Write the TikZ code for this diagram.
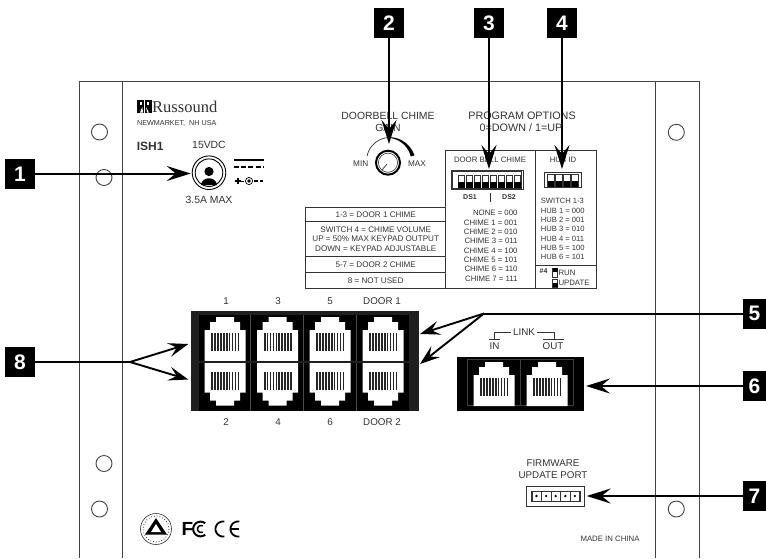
\documentclass[tikz,border=0pt]{standalone}
\usepackage{fontspec}
\setmainfont{Liberation Sans}
\usetikzlibrary{arrows.meta}
\definecolor{ink}{HTML}{333333}
\definecolor{panel}{HTML}{444444}
\tikzset{
  x=1pt,y=-1pt,
  panelline/.style={draw=panel,line width=1pt},
  hole/.style={draw=panel,line width=0.9pt},
  box/.style={draw=ink,line width=0.9pt},
  tag/.style={fill=black,text=white,inner sep=0pt,minimum width=30pt,minimum height=30pt,font=\bfseries\fontsize{21}{21}\selectfont},
  tagcut/.style={tag,minimum width=23pt},
  lead/.style={draw=black,line width=2pt,-{Stealth[length=24pt,width=15pt,inset=9pt]}},
  leadthick/.style={draw=black,line width=2.5pt,-{Stealth[length=24pt,width=15pt,inset=9pt]}},
  leadhalf/.style={draw=black,line width=1.9pt,-{Stealth[length=20pt,width=14pt,inset=8pt]}},
  plainlead/.style={draw=black,line width=2pt},
  big/.style={text=ink,inner sep=0pt,font=\fontsize{10.4}{11}\selectfont},
  prog/.style={text=ink,inner sep=0pt,font=\fontsize{10.8}{11}\selectfont},
  jacktxt/.style={text=ink,inner sep=0pt,font=\fontsize{9.8}{10}\selectfont},
  tabletxt/.style={text=ink,inner sep=0pt,font=\fontsize{8.1}{9}\selectfont},
  chimetxt/.style={text=ink,inner sep=0pt,font=\fontsize{7.8}{9}\selectfont},
  hubtxt/.style={text=ink,inner sep=0pt,font=\fontsize{7.6}{8}\selectfont},
  boldtxt/.style={text=ink,inner sep=0pt,font=\bfseries\fontsize{7}{8}\selectfont},
}
\newcommand{\rjack}[3]{%
  \fill[white] ({#1-9},#2) -- ({#1+9},#2) -- ({#1+9},{#2+#3*5}) -- ({#1+15},{#2+#3*5}) -- ({#1+15},{#2+#3*13}) -- ({#1+20.5},{#2+#3*13}) -- ({#1+20.5},{#2+#3*44}) -- ({#1-20.5},{#2+#3*44}) -- ({#1-20.5},{#2+#3*13}) -- ({#1-15},{#2+#3*13}) -- ({#1-15},{#2+#3*5}) -- ({#1-9},{#2+#3*5}) -- cycle;
  \foreach \k in {0,...,9} {
    \fill[black!85] ({#1-13.6+\k*2.9},{#2+#3*16}) rectangle ({#1-12+\k*2.9},{#2+#3*34});
  }%
}
\newcommand{\dipsw}[3]{% x, y top, count
  \foreach \k in {1,...,#3} {
    \pgfmathsetmacro{\xa}{#1+(\k-1)*8}
    \draw[ink,line width=0.7pt,fill=white] (\xa,#2) rectangle ({\xa+6.6},{#2+12});
    \fill[black] (\xa,{#2+6.5}) rectangle ({\xa+6.6},{#2+12});
  }%
}
\begin{document}
\begin{tikzpicture}
\useasboundingbox (0,0) rectangle (766,558);
\fill[white] (0,0) rectangle (766,558);

% panel
\draw[panelline] (79,558) -- (79,81) -- (699,81) -- (699,558);
\draw[panelline] (122,81) -- (122,558);
\draw[panelline] (655.5,81) -- (655.5,558);
\foreach \x/\y in {99.5/132,104/177.5,104/463.5,99.5/509,676.3/132.3,676.3/509} {
  \draw[hole,fill=white] (\x,\y) circle[radius=8];
}

% logo
\fill[black] (137,100) rectangle (151.5,112.5);
\fill[white] (143.7,100) rectangle (144.6,112.5);
\fill[white] (139.5,102) rectangle (141.5,104.5);
\fill[white] (147,102) rectangle (149,104.5);
\fill[white] (140,112.5) -- (142.2,107) -- (143.2,112.5) -- cycle;
\fill[white] (146,107) -- (147,112.5) -- (149,112.5) -- cycle;
\node[anchor=base west,inner sep=0pt,text=ink,font={\fontspec{Liberation Serif}\fontsize{16.5}{17}\selectfont}] (brand) at (152,112.3) {Russound};
\node[anchor=west,text=ink,inner sep=0pt,font=\fontsize{7.2}{8}\selectfont] (addr) at (137,123.5) {NEWMARKET,\ \ NH USA};
\node[anchor=west,inner sep=0pt,text=ink,font=\bfseries\fontsize{12}{12}\selectfont] (model) at (136.7,146) {ISH1};

% power
\node[big] (vdc) at (209,145) {15VDC};
\node[big] (amax) at (209,200) {3.5A MAX};
\draw[black,line width=0.9pt] (209,172.7) circle[radius=16.8];
\draw[black,line width=0.9pt] (209,172.7) circle[radius=13.8];
\fill[black] (209,171.5) circle[radius=4.6];
\fill[black] (201,185) .. controls (202,176) and (216,176) .. (217,185) -- cycle;
\draw[black,line width=1.4pt] (234,160) -- (264,160);
\draw[black,line width=1.2pt,dash pattern=on 5pt off 2.2pt] (234,167) -- (264,167);
\draw[black,line width=1.2pt] (235,181) -- (241,181);
\draw[black,line width=1.2pt] (238,178) -- (238,184);
\draw[black,line width=1pt] (241,181) -- (244,181);
\draw[black,line width=0.7pt] (249,181) circle[radius=3.6];
\fill[black] (249,181) circle[radius=1.8];
\draw[black,line width=1.2pt] (254,181) -- (258,181) (260,181) -- (263,181);

% gain
\node[big] (bell) at (388,116) {DOORBELL CHIME};
\node[big] (gaintxt) at (388,128) {GAIN};
\node[text=ink,inner sep=0pt,font=\fontsize{8.2}{9}\selectfont] (mintxt) at (360.7,164) {MIN};
\node[text=ink,inner sep=0pt,font=\fontsize{8.2}{9}\selectfont] (maxtxt) at (417,164) {MAX};
\draw[ink,line width=0.7pt] plot[domain=162:90,samples=30] ({388+(22+(162-\x)/72*3.5)*cos(\x)},{163-(22+(162-\x)/72*3.5)*sin(\x)});
\fill[black] plot[domain=90:16,samples=30] ({388+(25.8+1.7*(90-\x)/74)*cos(\x)},{163-(25.8+1.7*(90-\x)/74)*sin(\x)})
  -- plot[domain=16:90,samples=30] ({388+(25.2-1.6*(90-\x)/74)*cos(\x)},{163-(25.2-1.6*(90-\x)/74)*sin(\x)}) -- cycle;
\draw[black,line width=2pt] (388,162.7) circle[radius=12];
\draw[ink,line width=0.6pt] (388,162.7) circle[radius=9.6];
\draw[ink,line width=0.7pt] (382,170) -- (387,164);

% options
\node[prog] (progt) at (522,116) {PROGRAM OPTIONS};
\node[prog] (updown) at (521,128) {0=DOWN / 1=UP};

\draw[box] (445.7,150.7) rectangle (596,288);
\draw[box] (535.5,150.7) -- (535.5,288);
\draw[box] (535.5,265.7) -- (596,265.7);
\draw[box] (305.7,207.3) rectangle (445.7,288);
\draw[box] (305.7,221.7) -- (445.7,221.7);
\draw[box] (305.7,256.7) -- (445.7,256.7);
\draw[box] (305.7,272.3) -- (445.7,272.3);

\node[tabletxt] (r1) at (375.7,214.5) {1-3 = DOOR 1 CHIME};
\node[tabletxt] (r2a) at (375.7,229.7) {SWITCH 4 = CHIME VOLUME};
\node[tabletxt] (r2b) at (375.7,239) {UP = 50\% MAX KEYPAD OUTPUT};
\node[tabletxt] (r2c) at (375.7,248.5) {DOWN = KEYPAD ADJUSTABLE};
\node[tabletxt] (r3) at (375.7,265) {5-7 = DOOR 2 CHIME};
\node[tabletxt] (r4) at (375.7,281) {8 = NOT USED};

\node[chimetxt] (dbc) at (490,160) {DOOR BELL CHIME};
\draw[ink,line width=0.9pt] (451,170) rectangle (523,189.3);
\draw[ink,line width=0.5pt] (452.5,171.5) rectangle (521.5,187.8);
\dipsw{458}{175.5}{8}
\node[boldtxt] (ds1) at (470,197) {DS1};
\node[boldtxt] (ds2) at (509,197) {DS2};
\draw[ink,line width=0.8pt] (490,193) -- (490,201.5);
\foreach \i/\y/\t in {0/213.3/NONE = 000,1/222.7/CHIME 1 = 001,2/232/CHIME 2 = 010,3/241.3/CHIME 3 = 011,4/250.7/CHIME 4 = 100,5/260/CHIME 5 = 101,6/269.3/CHIME 6 = 110,7/278.7/CHIME 7 = 111} {
  \node[chimetxt,anchor=east] (ch\i) at (517.7,\y) {\t};
}

\node[chimetxt] (hubid) at (563,160) {HUB ID};
\draw[ink,line width=0.9pt] (544,172.3) rectangle (581.7,187.7);
\dipsw{547.5}{174.5}{4}
\foreach \i/\y/\t in {0/201/SWITCH 1-3,1/211/HUB 1 = 000,2/220/HUB 2 = 001,3/229/HUB 3 = 010,4/239/HUB 4 = 011,5/248/HUB 5 = 100,6/257/HUB 6 = 101} {
  \node[hubtxt,anchor=west] (hub\i) at (540.7,\y) {\t};
}
\node[boldtxt,anchor=west] (four) at (539.5,271) {\#4};
\draw[ink,line width=0.6pt,fill=white] (552.5,268) rectangle (557.5,277);
\fill[black] (552.5,268) rectangle (557.5,272);
\draw[ink,line width=0.6pt,fill=white] (552.5,279.5) rectangle (557.5,287);
\fill[black] (552.5,283) rectangle (557.5,287);
\node[chimetxt,anchor=west] (run) at (558.3,272.5) {RUN};
\node[chimetxt,anchor=west] (upd) at (558.3,283) {UPDATE};

% RJ block 1
\fill[black!88] (190.7,311) rectangle (419.3,411);
\fill[black] (198.5,314.5) rectangle (409,411);
\draw[black!70,line width=0.5pt] (250.7,314.5) -- (250.7,411) (303.5,314.5) -- (303.5,411) (356.7,314.5) -- (356.7,411);
\foreach \x in {225,277.5,330,383} {
  \rjack{\x}{317}{1}
  \rjack{\x}{405.7}{-1}
}
\draw[black!88,line width=2.4pt] (190.7,362) -- (419.3,362);
\foreach \i/\x/\t in {a/226/1,b/278/3,c/330/5,d/382/DOOR 1} {
  \node[jacktxt] (top\i) at (\x,300.7) {\t};
}
\foreach \i/\x/\t in {a/226/2,b/278/4,c/330/6,d/382/DOOR 2} {
  \node[jacktxt] (bot\i) at (\x,422.5) {\t};
}

% LINK
\fill[black] (457,357) rectangle (584,411);
\draw[black!75,line width=0.5pt] (467,359.5) rectangle (573.5,405) (520.5,359.5) -- (520.5,405);
\rjack{494}{362}{1}
\rjack{547}{362}{1}
\node[jacktxt] (linktxt) at (524,332) {LINK};
\node[jacktxt] (intxt) at (494.5,346) {IN};
\node[jacktxt] (outtxt) at (553,346) {OUT};
\draw[ink,line width=0.7pt] (489,339.4) -- (499.5,339.4) (494.3,339.4) -- (494.3,332) -- (510.7,332);
\draw[ink,line width=0.7pt] (537,332) -- (554,332) -- (554,339.4) (542.7,339.4) -- (564,339.4);

% firmware
\node[jacktxt] (fw) at (553,463.3) {FIRMWARE};
\node[jacktxt] (upt) at (553,475) {UPDATE PORT};
\draw[ink,line width=0.9pt] (526.7,486) rectangle (584.3,506);
\draw[ink,line width=0.8pt] (531.7,491) rectangle (579.7,501);
\foreach \k in {0,...,4} {
  \draw[ink,line width=0.4pt] ({531.7+\k*9.6},491) rectangle ({531.7+(\k+1)*9.6},501);
  \fill[black] ({536.5+\k*9.6},496) circle[radius=1.3];
}
\node[chimetxt] (china) at (610,539) {MADE IN CHINA};

% marks
\draw[ink,line width=0.6pt] (156,529) circle[radius=15.5];
\draw[ink,line width=0.8pt,dotted] (156,529) circle[radius=13];
\fill[black] (156,518) -- (167,534.5) -- (145,534.5) -- cycle;
\fill[white] (156,524) -- (161,532) -- (151,532) -- cycle;
\node[anchor=west,inner sep=0pt,text=black,font=\bfseries\fontsize{19}{19}\selectfont] (ftxt) at (181.5,529) {F};
\draw[black,line width=2pt] plot[domain=50:310,samples=30] ({200.5+7.3*cos(\x)},{529-7.3*sin(\x)});
\draw[black,line width=1.6pt] plot[domain=60:300,samples=30] ({201+3.4*cos(\x)},{529-3.4*sin(\x)});
\draw[black,line width=1.8pt] plot[domain=80:280,samples=30] ({223+7.5*cos(\x)},{529-7.5*sin(\x)});
\draw[black,line width=1.8pt] plot[domain=80:280,samples=30] ({238+7.5*cos(\x)},{529-7.5*sin(\x)});
\draw[black,line width=1.5pt] (231,529) -- (239,529);

% leaders
\node[tag] (n1) at (20,174) {1};
\node[tag] (n2) at (389,23) {2};
\node[tag] (n3) at (489,23) {3};
\node[tag] (n4) at (562,23) {4};
\node[tagcut] (n5) at (754.5,313.5) {5};
\node[tagcut] (n6) at (754.5,386) {6};
\node[tagcut] (n7) at (754.5,496) {7};
\node[tag] (n8) at (20,362) {8};

\coordinate (t1) at (190.7,173.5);
\coordinate (t2) at (389,144);
\coordinate (t3) at (489,169);
\coordinate (t4) at (562,169);
\coordinate (k5) at (484,313.5);
\coordinate (t5a) at (420,334);
\coordinate (t5b) at (420,364);
\coordinate (t6) at (586,386);
\coordinate (t7) at (586.7,496);
\coordinate (k8) at (130,362);
\coordinate (t8a) at (188.3,344);
\coordinate (t8b) at (188.3,379.5);

\draw[lead] (n1.east |- t1) -- (t1);
\draw[leadthick] (n2) -- (t2);
\draw[leadthick] (n3) -- (t3);
\draw[leadthick] (n4) -- (t4);
\draw[plainlead] (n5) -- (k5);
\draw[leadhalf] (k5) -- (t5a);
\draw[leadhalf] (k5) -- (t5b);
\draw[lead] (n6) -- (t6);
\draw[lead] (n7) -- (t7);
\draw[plainlead] (n8) -- (k8);
\draw[leadhalf] (k8) -- (t8a);
\draw[leadhalf] (k8) -- (t8b);
\end{tikzpicture}
\end{document}
